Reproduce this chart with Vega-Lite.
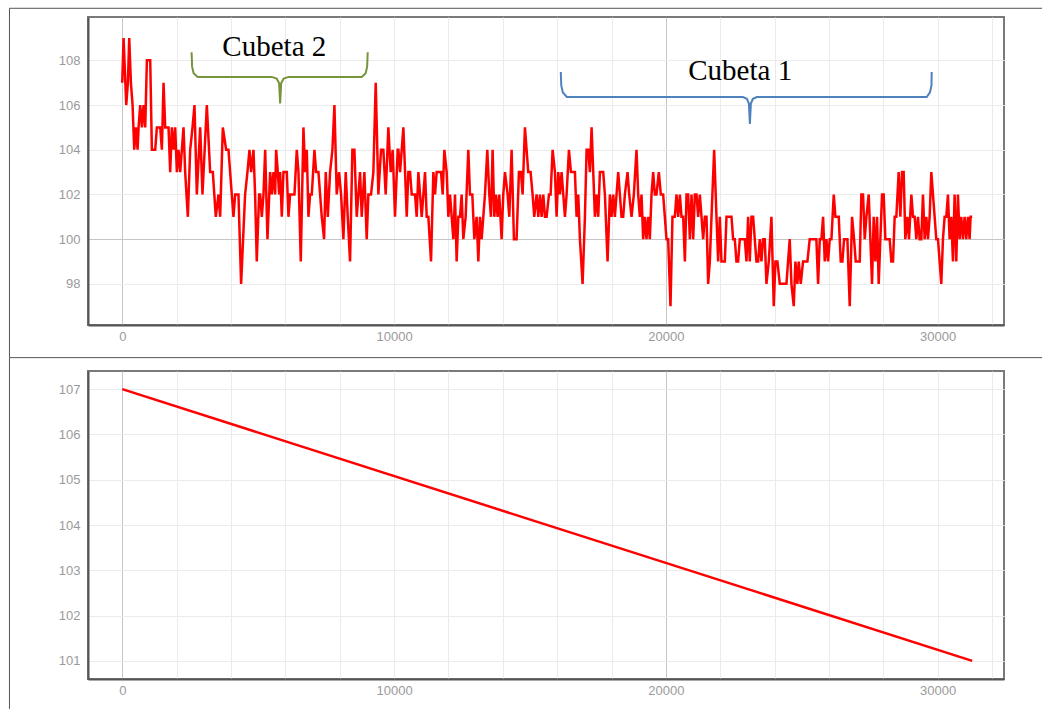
{
  "$schema": "https://vega.github.io/schema/vega-lite/v6.json",
  "padding": {"left": 7, "top": 6, "right": 0, "bottom": 0},
  "autosize": {"type": "pad"},
  "background": "white",
  "spacing": 46,
  "bounds": "flush",
  "config": {
    "view": {"stroke": "#7a7a7a", "strokeWidth": 2},
    "axis": {"labelFont": "Liberation Sans", "labelFontSize": 13, "labelColor": "#9a9a9a", "ticks": false, "domainColor": "#555555", "domainWidth": 2, "gridColor": "#ebebeb", "title": null, "labelOverlap": false}
  },
  "datasets": {
    "serie": [
      {"x":0,"y":107},{"x":49,"y":109},{"x":147,"y":106},{"x":208,"y":107},{"x":257,"y":109},{"x":318,"y":107},{"x":380,"y":106},{"x":441,"y":104},{"x":502,"y":105},{"x":564,"y":104},{"x":600,"y":105},{"x":662,"y":106},{"x":723,"y":105},{"x":784,"y":106},{"x":845,"y":105},{"x":907,"y":108},{"x":1029,"y":108},{"x":1090,"y":104},{"x":1213,"y":104},{"x":1274,"y":105},{"x":1397,"y":105},{"x":1458,"y":104},{"x":1519,"y":107},{"x":1580,"y":105},{"x":1703,"y":105},{"x":1764,"y":103},{"x":1825,"y":105},{"x":1887,"y":104},{"x":1948,"y":105},{"x":2009,"y":103},{"x":2070,"y":104},{"x":2132,"y":103},{"x":2254,"y":105},{"x":2315,"y":103},{"x":2413,"y":101},{"x":2499,"y":104},{"x":2585,"y":105},{"x":2658,"y":106},{"x":2744,"y":102},{"x":2867,"y":105},{"x":2952,"y":102},{"x":3112,"y":106},{"x":3234,"y":103},{"x":3332,"y":103},{"x":3442,"y":101},{"x":3540,"y":102},{"x":3602,"y":101},{"x":3700,"y":105},{"x":3822,"y":104},{"x":3908,"y":104},{"x":3969,"y":103},{"x":4030,"y":102},{"x":4092,"y":101},{"x":4153,"y":102},{"x":4275,"y":102},{"x":4373,"y":98},{"x":4520,"y":102},{"x":4606,"y":103},{"x":4680,"y":104},{"x":4741,"y":103},{"x":4827,"y":104},{"x":4888,"y":102},{"x":4949,"y":99},{"x":5035,"y":102},
      {"x":5074,"y":102},{"x":5135,"y":101},{"x":5196,"y":102},{"x":5258,"y":104},{"x":5343,"y":100},{"x":5441,"y":103},{"x":5503,"y":102},{"x":5564,"y":103},{"x":5625,"y":102},{"x":5662,"y":104},{"x":5723,"y":103},{"x":5772,"y":102},{"x":5809,"y":103},{"x":5870,"y":101},{"x":5931,"y":103},{"x":5993,"y":103},{"x":6054,"y":103},{"x":6115,"y":101},{"x":6176,"y":102},{"x":6238,"y":102},{"x":6336,"y":102},{"x":6421,"y":104},{"x":6483,"y":103},{"x":6568,"y":99},{"x":6666,"y":105},{"x":6728,"y":103},{"x":6789,"y":104},{"x":6850,"y":101},{"x":6911,"y":102},{"x":6973,"y":102},{"x":7071,"y":104},{"x":7132,"y":103},{"x":7218,"y":103},{"x":7279,"y":102},{"x":7340,"y":101},{"x":7426,"y":100},{"x":7487,"y":103},{"x":7561,"y":101},{"x":7646,"y":103},{"x":7732,"y":104},{"x":7806,"y":106},{"x":7891,"y":102},{"x":7977,"y":103},{"x":8051,"y":102},{"x":8136,"y":100},{"x":8222,"y":103},{"x":8296,"y":101},{"x":8381,"y":99},{"x":8467,"y":104},{"x":8541,"y":104},{"x":8626,"y":101},{"x":8688,"y":102},{"x":8749,"y":103},{"x":8810,"y":101},{"x":8908,"y":103},{"x":8994,"y":100},{"x":9055,"y":102},{"x":9153,"y":102},{"x":9239,"y":103},{"x":9325,"y":107},{"x":9423,"y":102},{"x":9521,"y":104},{"x":9606,"y":104},{"x":9692,"y":102},{"x":9790,"y":105},{"x":9876,"y":103},{"x":9949,"y":104},{"x":10035,"y":101},{"x":10133,"y":104},
      {"x":10160,"y":104},{"x":10221,"y":103},{"x":10282,"y":104},{"x":10343,"y":105},{"x":10405,"y":103},{"x":10466,"y":101},{"x":10527,"y":103},{"x":10588,"y":103},{"x":10650,"y":102},{"x":10711,"y":102},{"x":10772,"y":102},{"x":10833,"y":101},{"x":10895,"y":103},{"x":10956,"y":102},{"x":11017,"y":101},{"x":11078,"y":102},{"x":11140,"y":103},{"x":11201,"y":101},{"x":11262,"y":101},{"x":11360,"y":99},{"x":11446,"y":103},{"x":11507,"y":102},{"x":11568,"y":103},{"x":11630,"y":103},{"x":11728,"y":103},{"x":11789,"y":102},{"x":11850,"y":104},{"x":11936,"y":103},{"x":11997,"y":101},{"x":12058,"y":102},{"x":12120,"y":101},{"x":12181,"y":100},{"x":12242,"y":102},{"x":12303,"y":99},{"x":12365,"y":101},{"x":12426,"y":101},{"x":12487,"y":102},{"x":12548,"y":100},{"x":12634,"y":101},{"x":12732,"y":104},{"x":12793,"y":102},{"x":12879,"y":102},{"x":12953,"y":100},{"x":13038,"y":101},{"x":13100,"y":99},{"x":13161,"y":101},{"x":13222,"y":100},{"x":13283,"y":101},{"x":13345,"y":102},{"x":13430,"y":104},{"x":13504,"y":102},{"x":13565,"y":101},{"x":13626,"y":104},{"x":13688,"y":101},{"x":13749,"y":102},{"x":13810,"y":101},{"x":13871,"y":102},{"x":13957,"y":100},{"x":14018,"y":102},{"x":14080,"y":103},{"x":14178,"y":102},{"x":14239,"y":101},{"x":14325,"y":104},{"x":14410,"y":100},{"x":14508,"y":100},{"x":14594,"y":103},{"x":14668,"y":103},{"x":14729,"y":102},{"x":14815,"y":105},{"x":14876,"y":104},{"x":14937,"y":103},{"x":15023,"y":103},{"x":15096,"y":102},{"x":15158,"y":101},{"x":15243,"y":102},
      {"x":15307,"y":101},{"x":15368,"y":102},{"x":15429,"y":101},{"x":15490,"y":102},{"x":15552,"y":101},{"x":15613,"y":101},{"x":15699,"y":102},{"x":15760,"y":102},{"x":15833,"y":104},{"x":15919,"y":103},{"x":15980,"y":101},{"x":16042,"y":103},{"x":16103,"y":102},{"x":16164,"y":103},{"x":16225,"y":102},{"x":16287,"y":101},{"x":16348,"y":102},{"x":16434,"y":104},{"x":16507,"y":103},{"x":16568,"y":103},{"x":16654,"y":103},{"x":16715,"y":101},{"x":16777,"y":102},{"x":16838,"y":100},{"x":16936,"y":98},{"x":17022,"y":101},{"x":17083,"y":104},{"x":17144,"y":104},{"x":17205,"y":103},{"x":17267,"y":105},{"x":17328,"y":103},{"x":17389,"y":101},{"x":17450,"y":102},{"x":17512,"y":101},{"x":17573,"y":103},{"x":17634,"y":103},{"x":17695,"y":103},{"x":17757,"y":102},{"x":17855,"y":99},{"x":17940,"y":102},{"x":18002,"y":101},{"x":18063,"y":102},{"x":18124,"y":101},{"x":18185,"y":102},{"x":18247,"y":103},{"x":18308,"y":102},{"x":18369,"y":101},{"x":18430,"y":101},{"x":18492,"y":102},{"x":18590,"y":103},{"x":18651,"y":102},{"x":18737,"y":101},{"x":18822,"y":102},{"x":18920,"y":104},{"x":18982,"y":102},{"x":19043,"y":101},{"x":19104,"y":102},{"x":19165,"y":100},{"x":19227,"y":101},{"x":19288,"y":100},{"x":19349,"y":101},{"x":19410,"y":100},{"x":19472,"y":102},{"x":19533,"y":103},{"x":19594,"y":102},{"x":19655,"y":102},{"x":19741,"y":103},{"x":19815,"y":102},{"x":19900,"y":102},{"x":19962,"y":101},{"x":20023,"y":100},{"x":20084,"y":100},{"x":20170,"y":97},{"x":20243,"y":101},{"x":20329,"y":101},
      {"x":20392,"y":102},{"x":20454,"y":101},{"x":20515,"y":102},{"x":20576,"y":101},{"x":20637,"y":101},{"x":20699,"y":99},{"x":20760,"y":102},{"x":20821,"y":102},{"x":20882,"y":100},{"x":20944,"y":102},{"x":21005,"y":100},{"x":21066,"y":102},{"x":21127,"y":102},{"x":21189,"y":101},{"x":21250,"y":102},{"x":21311,"y":101},{"x":21372,"y":100},{"x":21434,"y":101},{"x":21495,"y":101},{"x":21556,"y":98},{"x":21617,"y":99},{"x":21679,"y":101},{"x":21777,"y":104},{"x":21862,"y":101},{"x":21924,"y":99},{"x":21985,"y":101},{"x":22046,"y":99},{"x":22107,"y":99},{"x":22169,"y":99},{"x":22230,"y":101},{"x":22291,"y":101},{"x":22352,"y":101},{"x":22414,"y":101},{"x":22475,"y":100},{"x":22536,"y":100},{"x":22597,"y":99},{"x":22659,"y":99},{"x":22720,"y":100},{"x":22781,"y":100},{"x":22842,"y":100},{"x":22904,"y":100},{"x":22965,"y":99},{"x":23026,"y":101},{"x":23087,"y":99},{"x":23149,"y":101},{"x":23210,"y":101},{"x":23271,"y":100},{"x":23332,"y":99},{"x":23394,"y":99},{"x":23455,"y":100},{"x":23516,"y":99},{"x":23577,"y":100},{"x":23639,"y":100},{"x":23700,"y":98},{"x":23786,"y":99},{"x":23884,"y":101},{"x":23969,"y":97},{"x":24031,"y":99},{"x":24104,"y":99},{"x":24190,"y":98},{"x":24251,"y":98},{"x":24312,"y":98},{"x":24435,"y":98},{"x":24496,"y":99},{"x":24557,"y":100},{"x":24619,"y":98},{"x":24704,"y":97},{"x":24766,"y":99},{"x":24839,"y":98},{"x":24888,"y":99},{"x":24962,"y":98},{"x":25047,"y":99},{"x":25133,"y":99},{"x":25207,"y":99},{"x":25292,"y":100},{"x":25354,"y":100},{"x":25452,"y":100},{"x":25537,"y":100},
      {"x":25601,"y":98},{"x":25662,"y":100},{"x":25723,"y":100},{"x":25784,"y":101},{"x":25846,"y":99},{"x":25907,"y":100},{"x":25968,"y":99},{"x":26029,"y":100},{"x":26091,"y":100},{"x":26176,"y":102},{"x":26238,"y":101},{"x":26299,"y":101},{"x":26360,"y":101},{"x":26434,"y":99},{"x":26495,"y":99},{"x":26556,"y":100},{"x":26617,"y":100},{"x":26679,"y":100},{"x":26764,"y":97},{"x":26850,"y":101},{"x":26924,"y":100},{"x":26985,"y":99},{"x":27071,"y":99},{"x":27132,"y":99},{"x":27193,"y":102},{"x":27254,"y":102},{"x":27316,"y":100},{"x":27377,"y":101},{"x":27463,"y":102},{"x":27524,"y":100},{"x":27585,"y":98},{"x":27646,"y":101},{"x":27708,"y":99},{"x":27769,"y":101},{"x":27830,"y":98},{"x":27891,"y":100},{"x":27953,"y":102},{"x":28014,"y":102},{"x":28075,"y":100},{"x":28149,"y":100},{"x":28234,"y":100},{"x":28296,"y":99},{"x":28357,"y":99},{"x":28418,"y":101},{"x":28479,"y":101},{"x":28565,"y":103},{"x":28626,"y":101},{"x":28688,"y":103},{"x":28749,"y":103},{"x":28810,"y":100},{"x":28884,"y":101},{"x":28945,"y":100},{"x":29031,"y":102},{"x":29092,"y":101},{"x":29153,"y":101},{"x":29214,"y":100},{"x":29276,"y":101},{"x":29337,"y":100},{"x":29398,"y":100},{"x":29459,"y":102},{"x":29521,"y":100},{"x":29582,"y":101},{"x":29643,"y":100},{"x":29704,"y":101},{"x":29766,"y":103},{"x":29827,"y":102},{"x":29888,"y":101},{"x":29949,"y":100},{"x":30011,"y":100},{"x":30072,"y":99},{"x":30133,"y":98},{"x":30194,"y":100},{"x":30256,"y":101},{"x":30317,"y":101},{"x":30378,"y":102},{"x":30439,"y":100},{"x":30501,"y":101},{"x":30562,"y":99},{"x":30623,"y":102},{"x":30684,"y":99},{"x":30746,"y":102},{"x":30807,"y":100},{"x":30868,"y":101},{"x":30929,"y":100},{"x":30991,"y":101},{"x":31052,"y":100},{"x":31113,"y":101},{"x":31174,"y":100},{"x":31211,"y":101},{"x":31270,"y":101}
    ],
    "braces": [
      {"g":"c2","i":0,"x":2551,"y":108.36},{"g":"c2","i":1,"x":2569,"y":107.73},{"g":"c2","i":2,"x":2625,"y":107.42},{"g":"c2","i":3,"x":2772,"y":107.26},{"g":"c2","i":4,"x":5496,"y":107.26},{"g":"c2","i":5,"x":5680,"y":107.19},{"g":"c2","i":6,"x":5772,"y":106.97},{"g":"c2","i":7,"x":5809,"y":106.07},{"g":"c2","i":8,"x":5846,"y":106.97},{"g":"c2","i":9,"x":5938,"y":107.19},{"g":"c2","i":10,"x":6122,"y":107.26},{"g":"c2","i":11,"x":8809,"y":107.26},{"g":"c2","i":12,"x":8956,"y":107.42},{"g":"c2","i":13,"x":9011,"y":107.73},{"g":"c2","i":14,"x":9030,"y":108.36},
      {"g":"c1","i":0,"x":16134,"y":107.48},{"g":"c1","i":1,"x":16152,"y":106.88},{"g":"c1","i":2,"x":16208,"y":106.57},{"g":"c1","i":3,"x":16355,"y":106.36},{"g":"c1","i":4,"x":22833,"y":106.36},{"g":"c1","i":5,"x":22980,"y":106.28},{"g":"c1","i":6,"x":23054,"y":106.07},{"g":"c1","i":7,"x":23091,"y":105.16},{"g":"c1","i":8,"x":23128,"y":106.07},{"g":"c1","i":9,"x":23201,"y":106.28},{"g":"c1","i":10,"x":23349,"y":106.36},{"g":"c1","i":11,"x":29595,"y":106.36},{"g":"c1","i":12,"x":29717,"y":106.57},{"g":"c1","i":13,"x":29772,"y":106.88},{"g":"c1","i":14,"x":29780,"y":107.48}
    ],
    "labels": [
      {"x":5595,"y":108.18,"t":"Cubeta 2"},
      {"x":22735,"y":107.10,"t":"Cubeta 1"}
    ],
    "frameTop": [
      {"x":-4149,"x2":-4149,"y":110.33,"y2":94.70},
      {"x":-4149,"x2":33840,"y":110.33,"y2":110.33},
      {"x":-4149,"x2":33840,"y":94.70,"y2":94.70}
    ],
    "frameBottom": [
      {"x":-4149,"x2":-4149,"y":107.69,"y2":99.94}
    ],
    "tendencia": [
      {"x":0,"y":107},
      {"x":31270,"y":101}
    ]
  },
  "vconcat": [
    {
      "width": 916,
      "height": 308,
      "layer": [
        {
          "data": {"name": "serie"},
          "mark": {"type": "line", "color": "#ff0000", "strokeWidth": 2.5},
          "encoding": {
            "x": {"field": "x", "type": "quantitative", "scale": {"domain": [-1260, 32440], "nice": false, "zero": false},
              "axis": {"values": [0,2000,4000,6000,8000,10000,12000,14000,16000,18000,20000,22000,24000,26000,28000,30000,32000], "format": "d", "labelExpr": "datum.value % 10000 === 0 ? datum.label : ''", "labelPadding": 5,
                "gridColor": {"condition": {"test": "datum.value === 0 || datum.value === 20000", "value": "#c6c6c6"}, "value": "#ebebeb"}}},
            "y": {"field": "y", "type": "quantitative", "scale": {"domain": [96.16, 109.94], "nice": false, "zero": false},
              "axis": {"values": [98,100,102,104,106,108], "labelPadding": 8,
                "gridColor": {"condition": {"test": "datum.value === 100", "value": "#c6c6c6"}, "value": "#ebebeb"}}}
          }
        },
        {
          "data": {"name": "braces"},
          "mark": {"type": "line", "strokeWidth": 2},
          "encoding": {
            "x": {"field": "x", "type": "quantitative"},
            "y": {"field": "y", "type": "quantitative"},
            "color": {"field": "g", "type": "nominal", "scale": {"domain": ["c2", "c1"], "range": ["#77933c", "#4f81bd"]}, "legend": null},
            "order": {"field": "i", "type": "quantitative"}
          }
        },
        {
          "data": {"name": "labels"},
          "mark": {"type": "text", "font": "Liberation Serif", "fontSize": 29, "baseline": "alphabetic", "align": "center", "color": "#000000"},
          "encoding": {
            "x": {"field": "x", "type": "quantitative"},
            "y": {"field": "y", "type": "quantitative"},
            "text": {"field": "t"}
          }
        },
        {
          "data": {"name": "frameTop"},
          "mark": {"type": "rule", "color": "#555555", "strokeWidth": 1},
          "encoding": {
            "x": {"field": "x", "type": "quantitative"},
            "x2": {"field": "x2"},
            "y": {"field": "y", "type": "quantitative"},
            "y2": {"field": "y2"}
          }
        }
      ]
    },
    {
      "width": 916,
      "height": 308,
      "layer": [
        {
          "data": {"name": "tendencia"},
          "mark": {"type": "line", "color": "#ff0000", "strokeWidth": 2.5},
          "encoding": {
            "x": {"field": "x", "type": "quantitative", "scale": {"domain": [-1260, 32440], "nice": false, "zero": false},
              "axis": {"values": [0,2000,4000,6000,8000,10000,12000,14000,16000,18000,20000,22000,24000,26000,28000,30000,32000], "format": "d", "labelExpr": "datum.value % 10000 === 0 ? datum.label : ''", "labelPadding": 5,
                "gridColor": {"condition": {"test": "datum.value === 0 || datum.value === 20000", "value": "#c6c6c6"}, "value": "#ebebeb"}}},
            "y": {"field": "y", "type": "quantitative", "scale": {"domain": [100.6, 107.4], "nice": false, "zero": false},
              "axis": {"values": [101,102,103,104,105,106,107], "labelPadding": 8}}
          }
        },
        {
          "data": {"name": "frameBottom"},
          "mark": {"type": "rule", "color": "#555555", "strokeWidth": 1},
          "encoding": {
            "x": {"field": "x", "type": "quantitative"},
            "x2": {"field": "x2"},
            "y": {"field": "y", "type": "quantitative"},
            "y2": {"field": "y2"}
          }
        }
      ]
    }
  ]
}
